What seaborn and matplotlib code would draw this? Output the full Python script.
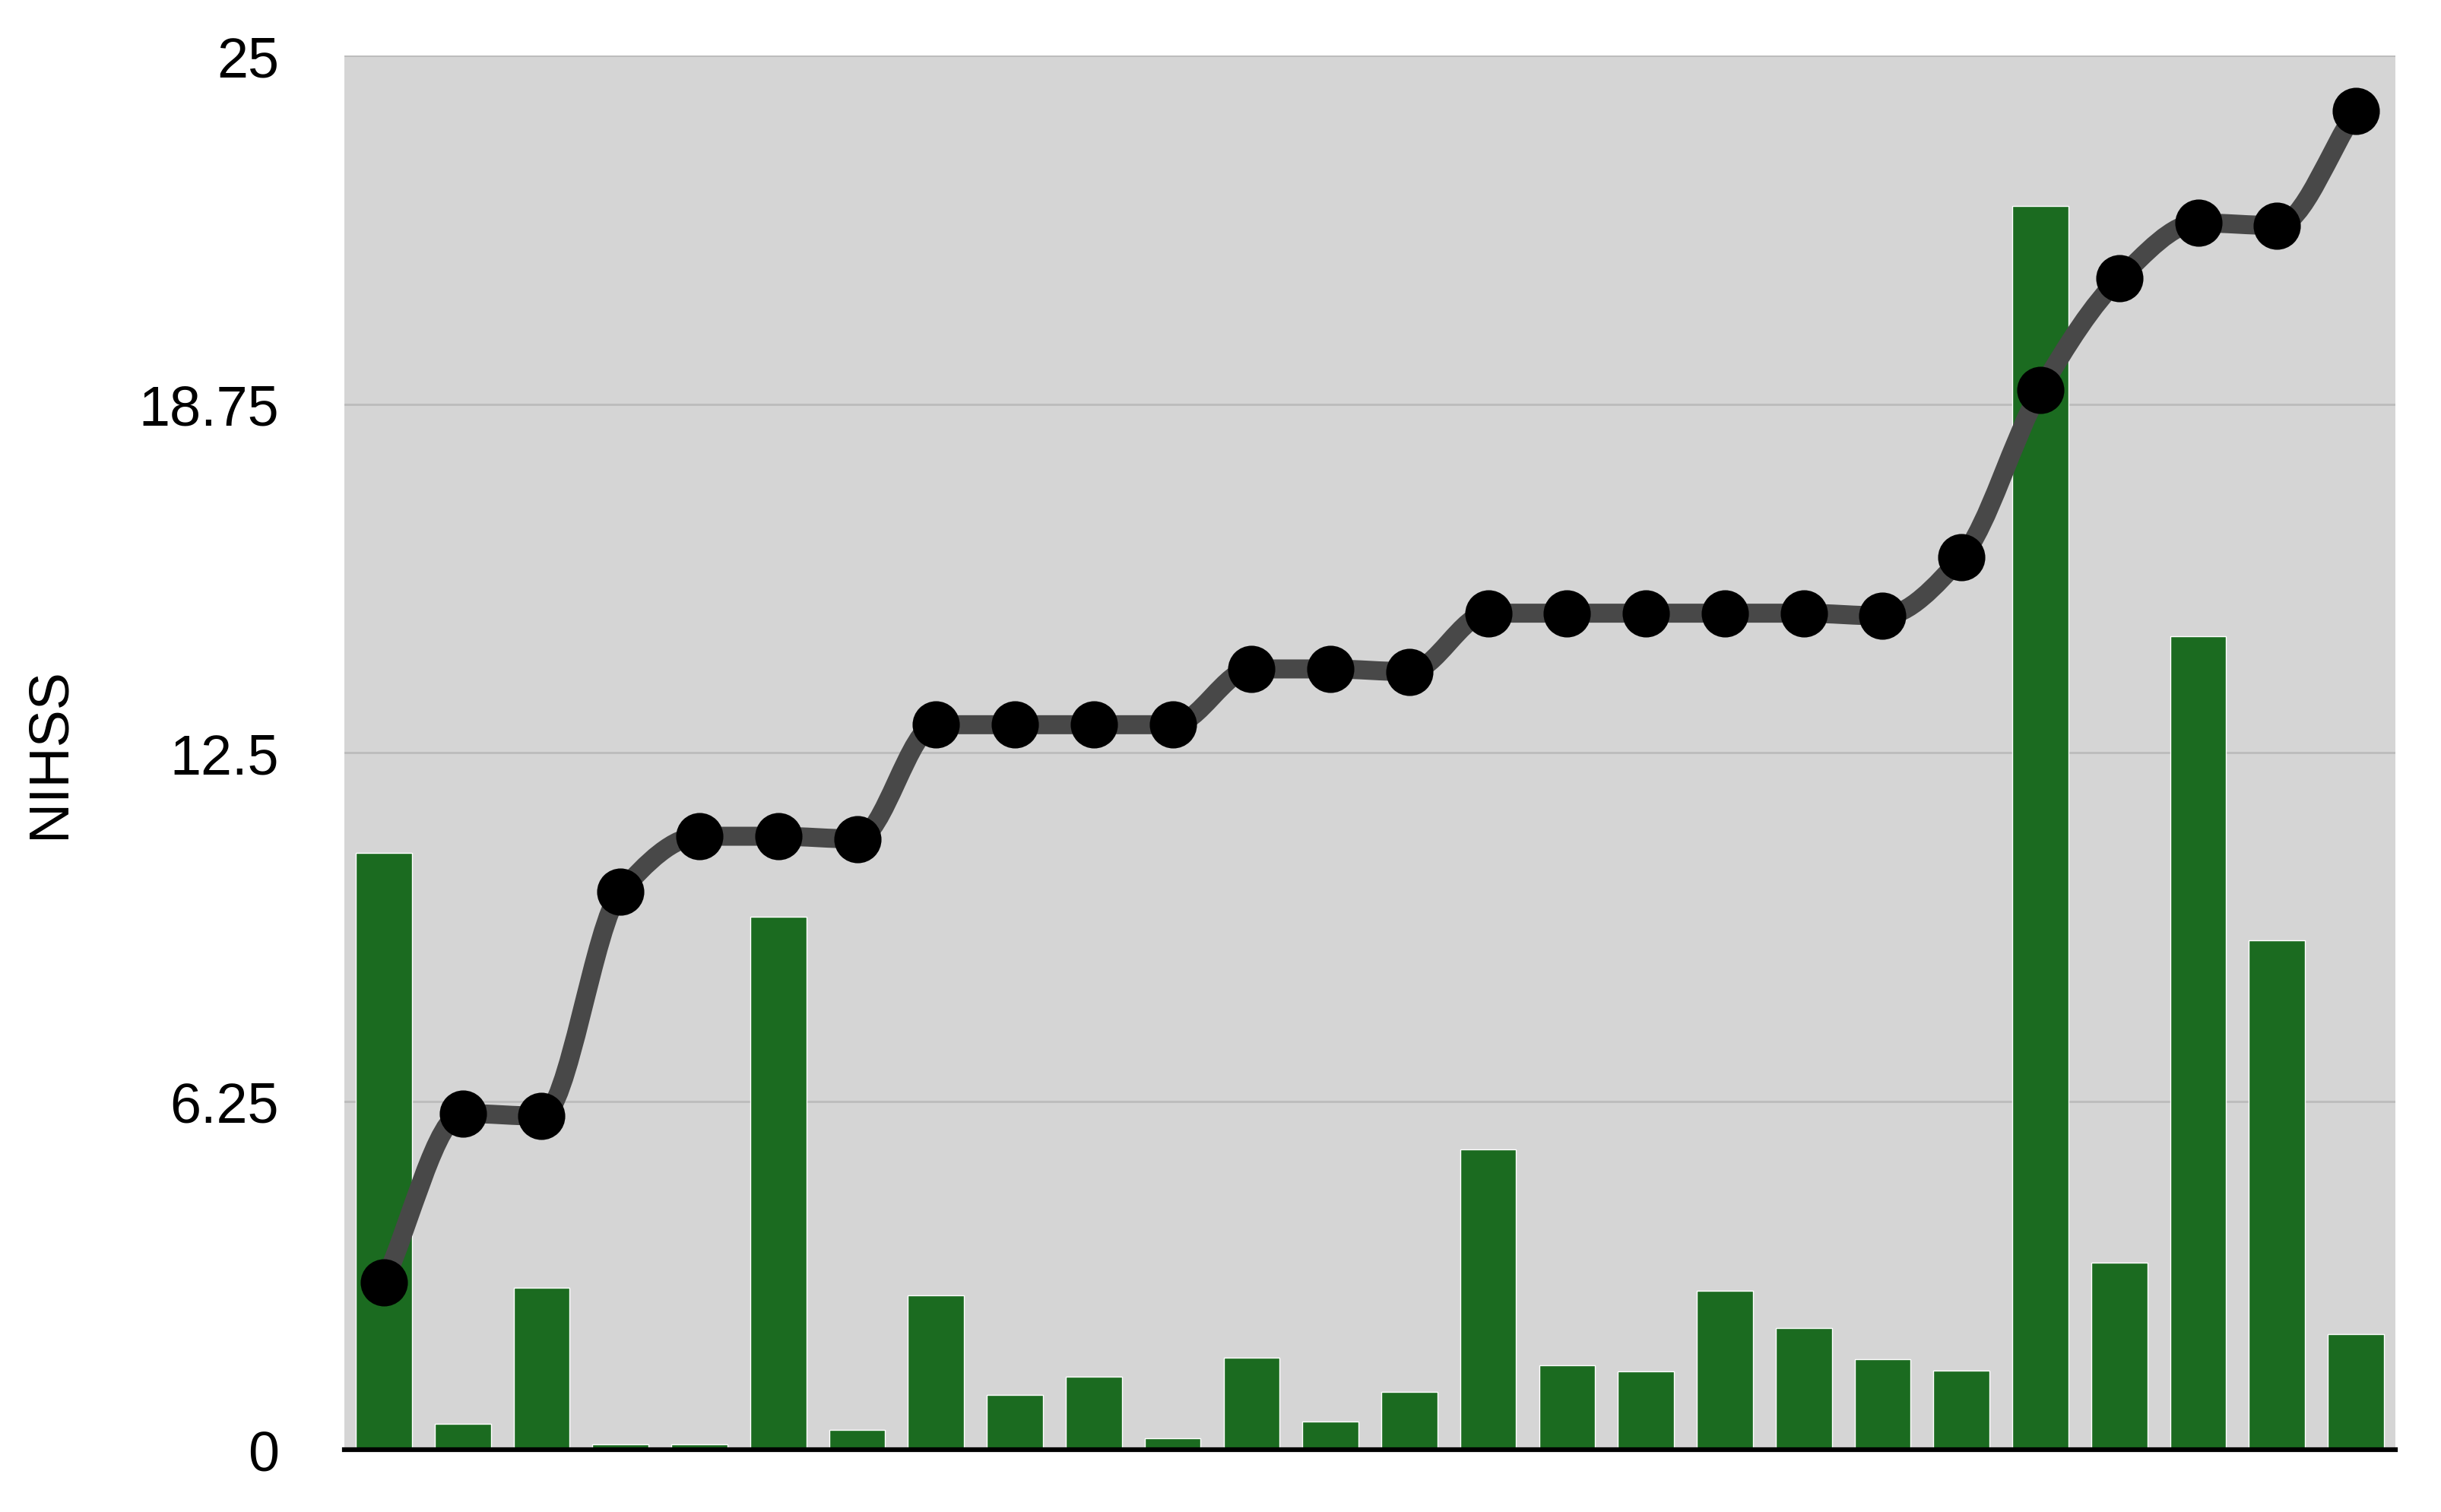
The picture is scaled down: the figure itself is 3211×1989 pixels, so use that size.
import numpy as np
import pandas as pd
import seaborn as sns
import matplotlib.pyplot as plt
from matplotlib.path import Path
from matplotlib.patches import PathPatch

# bar heights (one per patient, left to right)
bar_vals = [10.7, 0.47, 2.9, 0.1, 0.1, 9.55, 0.36, 2.77, 0.98, 1.31, 0.2, 1.65, 0.5,
            1.03, 5.39, 1.51, 1.4, 2.85, 2.18, 1.62, 1.42, 22.3, 3.35, 14.58, 9.13, 2.07]
# NIHSS values shown by the black dots
nihss = [3, 6.03, 5.98, 10, 11, 11, 10.95, 13, 13, 13, 13, 14, 14, 13.95,
         15, 15, 15, 15, 15, 14.95, 16, 19, 21, 22, 21.95, 24]
yticks = [0, 6.25, 12.5, 18.75, 25]
ytick_labels = ['0', '6.25', '12.5', '18.75', '25']

idx = list(range(len(bar_vals)))
df = pd.DataFrame({'idx': idx, 'bar': bar_vals, 'nihss': nihss})

sns.set_style('white')
plt.rcParams['font.family'] = ['Liberation Sans', 'DejaVu Sans']

fig = plt.figure(figsize=(32.11, 19.90), dpi=100)
ax = fig.add_axes([0.1411, 0.0412, 0.8402, 0.9216])
ax.set_facecolor('#d5d5d5')

sns.barplot(x='idx', y='bar', data=df, color='#1b6b20', saturation=1,
            width=0.71, ax=ax, zorder=2)


def smooth_path(xs, ys):
    # monotone cubic tangents -> bezier segments
    xs = np.asarray(xs, float)
    ys = np.asarray(ys, float)
    d = np.diff(ys) / np.diff(xs)
    m = np.zeros_like(ys)
    m[0], m[-1] = d[0], d[-1]
    for i in range(1, len(ys) - 1):
        if d[i - 1] * d[i] <= 0:
            m[i] = 0
        else:
            m[i] = 2 / (1 / d[i - 1] + 1 / d[i])
    verts = [(xs[0], ys[0])]
    codes = [Path.MOVETO]
    for i in range(len(xs) - 1):
        h = xs[i + 1] - xs[i]
        verts += [(xs[i] + h / 3, ys[i] + m[i] * h / 3),
                  (xs[i + 1] - h / 3, ys[i + 1] - m[i + 1] * h / 3),
                  (xs[i + 1], ys[i + 1])]
        codes += [Path.CURVE4] * 3
    return Path(verts, codes)


ax.add_patch(PathPatch(smooth_path(idx, nihss), facecolor='none',
                       edgecolor='#484848', lw=18, zorder=3, capstyle='round'))
sns.scatterplot(x='idx', y='nihss', data=df, color='black', s=2000,
                linewidth=0, ax=ax, zorder=4)

ax.set_xlim(-0.5, len(bar_vals) - 0.5)
ax.set_ylim(0, 25)
ax.set_yticks(yticks)
ax.set_yticklabels(ytick_labels, fontsize=53, color='black')
ax.set_xticks([])
ax.set_xlabel('')
ax.set_ylabel('NIHSS', fontsize=53, labelpad=60, color='black')
ax.tick_params(axis='y', length=0, pad=62)
ax.yaxis.grid(True, color='#bcbcbc', lw=2)
ax.set_axisbelow(True)
for s in ['top', 'right', 'left']:
    ax.spines[s].set_visible(False)
ax.spines['bottom'].set_color('black')
ax.spines['bottom'].set_linewidth(4.5)
ax.spines['bottom'].set_zorder(5)

fig.savefig('out.png', dpi=100, facecolor='white')
